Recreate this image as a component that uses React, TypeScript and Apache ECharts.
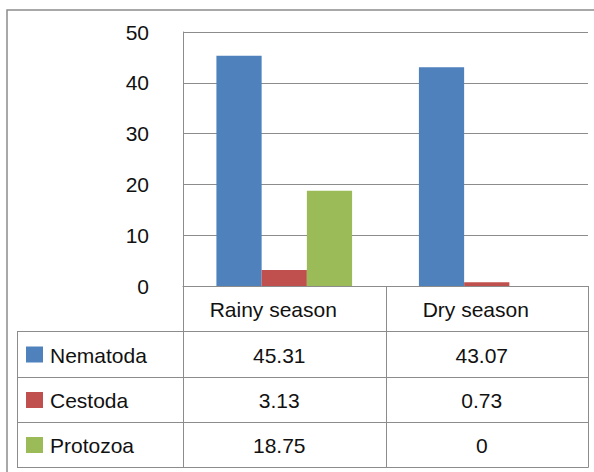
import React, { useEffect, useRef } from 'react';
import * as echarts from 'echarts';

const categories = ['Rainy season', 'Dry season'];
const seriesNames = ['Nematoda', 'Cestoda', 'Protozoa'];
const nematoda = [45.31, 43.07];
const cestoda = [3.13, 0.73];
const protozoa = [18.75, 0];
const yTicks = { min: 0, max: 50, interval: 10 };
const colors = ['#4F81BD', '#C0504D', '#9BBB59'];

const FONT = "'Liberation Sans', Arial, sans-serif";
const LINE = '#8c8c8c';
const FS = 21;

export default function App() {
  const ref = useRef<HTMLDivElement>(null);
  useEffect(() => {
    const chart = echarts.init(ref.current!, null, { renderer: 'svg' });
    const seriesData = [nematoda, cestoda, protozoa];
    const gridLeft = 183, gridTop = 32, gridRight = 588, gridBottom = 286;
    chart.setOption({
      animation: false,
      grid: { left: gridLeft, top: gridTop, width: gridRight - gridLeft, height: gridBottom - gridTop },
      xAxis: {
        type: 'category',
        data: categories,
        axisLine: { show: true, lineStyle: { color: LINE, width: 1 } },
        axisTick: { show: false },
        axisLabel: { show: false },
      },
      yAxis: {
        type: 'value',
        min: yTicks.min,
        max: yTicks.max,
        interval: yTicks.interval,
        axisLine: { show: true, lineStyle: { color: LINE, width: 1 } },
        axisTick: { show: false },
        axisLabel: { margin: 34, color: '#111', fontSize: FS, fontFamily: FONT },
        splitLine: { show: true, lineStyle: { color: LINE, width: 1 } },
      },
      series: seriesNames.map((name, i) => ({
        name,
        type: 'bar',
        data: seriesData[i],
        itemStyle: { color: colors[i] },
        barGap: '0%',
        barCategoryGap: '33%',
      })),
    });

    const colCenters = categories.map((c) => chart.convertToPixel({ xAxisIndex: 0 }, c) as number);
    const tableLeft = 17;
    const rowEdges = [286, 331, 377, 422, 467];
    const colEdges = [gridLeft, (gridLeft + gridRight) / 2, gridRight];
    const graphics: any[] = [];
    graphics.push({
      type: 'rect',
      shape: { x: 7, y: 10, width: 620, height: 500 },
      style: { fill: 'none', stroke: LINE, lineWidth: 1.5 },
    });
    for (let r = 1; r < rowEdges.length; r++) {
      const y = rowEdges[r] + 0.5;
      graphics.push({ type: 'line', shape: { x1: tableLeft, y1: y, x2: gridRight + 0.5, y2: y }, style: { stroke: LINE, lineWidth: 1 } });
    }
    graphics.push({ type: 'line', shape: { x1: tableLeft + 0.5, y1: rowEdges[1], x2: tableLeft + 0.5, y2: rowEdges[4] + 0.5 }, style: { stroke: LINE, lineWidth: 1 } });
    colEdges.forEach((x) => {
      const xx = Math.round(x) + 0.5;
      graphics.push({ type: 'line', shape: { x1: xx, y1: rowEdges[0], x2: xx, y2: rowEdges[4] + 0.5 }, style: { stroke: LINE, lineWidth: 1 } });
    });
    categories.forEach((c, i) => {
      graphics.push({
        type: 'text',
        x: colCenters[i] - 11,
        y: (rowEdges[0] + rowEdges[1]) / 2 + 1,
        style: { text: c, fill: '#111', fontSize: FS, fontFamily: FONT, align: 'center', verticalAlign: 'middle' },
      });
    });
    seriesNames.forEach((name, r) => {
      const cy = (rowEdges[r + 1] + rowEdges[r + 2]) / 2 + 1;
      graphics.push({ type: 'rect', shape: { x: 26, y: cy - 8.5, width: 17, height: 16 }, style: { fill: colors[r] } });
      graphics.push({
        type: 'text', x: 50, y: cy,
        style: { text: name, fill: '#111', fontSize: FS, fontFamily: FONT, align: 'left', verticalAlign: 'middle' },
      });
      seriesData[r].forEach((v, i) => {
        graphics.push({
          type: 'text', x: colCenters[i] - 5, y: cy,
          style: { text: String(v), fill: '#111', fontSize: FS, fontFamily: FONT, align: 'center', verticalAlign: 'middle' },
        });
      });
    });
    chart.setOption({ graphic: graphics });
    return () => chart.dispose();
  }, []);
  return (
    <div
      ref={ref}
      style={{ position: 'absolute', left: 0, top: 0, width: 594, height: 472, background: '#fff' }}
    />
  );
}
